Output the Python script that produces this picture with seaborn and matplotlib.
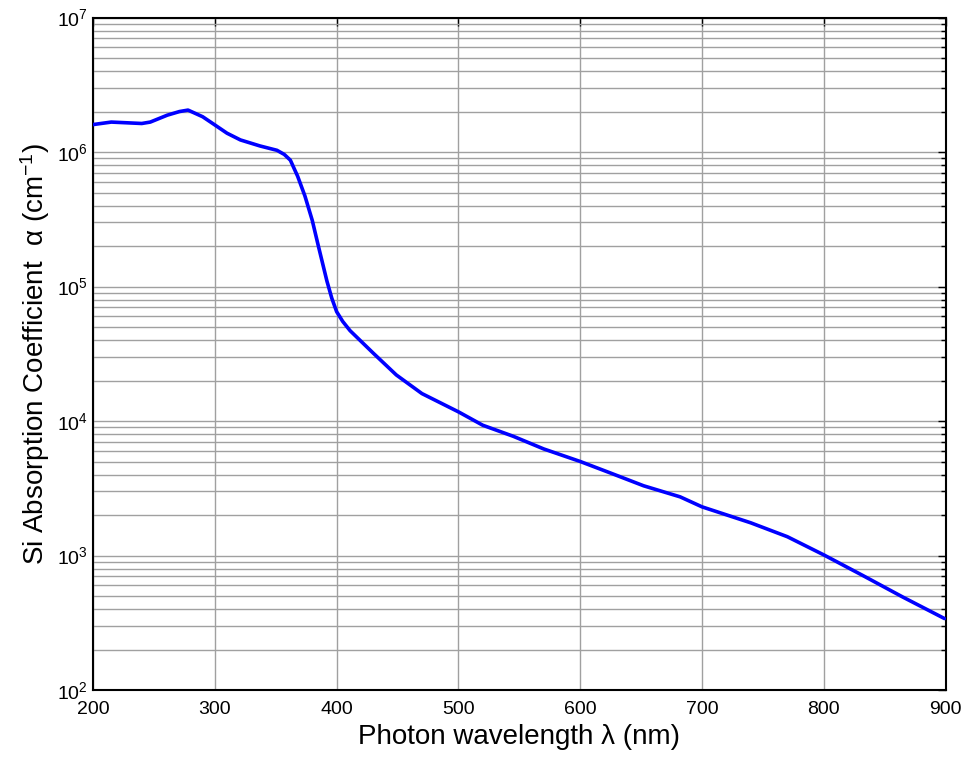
import numpy as np
import pandas as pd
import matplotlib
matplotlib.use('Agg')
import matplotlib.pyplot as plt
import matplotlib.ticker as mticker
import seaborn as sns

# Data
wavelength_nm = [200, 215, 240, 247, 261, 271, 278, 290, 300, 310, 321, 337, 351,
                 357, 362, 368, 374, 380, 385, 392, 396, 400, 405, 411, 430, 449,
                 470, 500, 520, 545, 570, 600, 625, 652, 682, 700, 740, 770, 800,
                 832, 865, 899]
alpha_cm = [1.60e6, 1.67e6, 1.63e6, 1.67e6, 1.88e6, 2.00e6, 2.05e6, 1.83e6, 1.59e6,
            1.38e6, 1.23e6, 1.11e6, 1.03e6, 9.6e5, 8.7e5, 6.6e5, 4.7e5, 3.1e5,
            2.0e5, 1.1e5, 8.2e4, 6.5e4, 5.5e4, 4.7e4, 3.2e4, 2.2e4, 1.6e4,
            1.17e4, 9.3e3, 7.7e3, 6.2e3, 5.0e3, 4.1e3, 3.3e3, 2.73e3, 2.3e3,
            1.75e3, 1.38e3, 1.01e3, 7.1e2, 4.9e2, 3.4e2]

x_ticks = [200, 300, 400, 500, 600, 700, 800, 900]

df = pd.DataFrame({'wavelength': wavelength_nm, 'alpha': alpha_cm})

sns.set_style("white")
plt.rcParams['font.family'] = ['Liberation Sans', 'DejaVu Sans']
plt.rcParams['mathtext.fontset'] = 'custom'
plt.rcParams['mathtext.rm'] = 'Liberation Sans'
plt.rcParams['mathtext.it'] = 'Liberation Sans:italic'
plt.rcParams['text.color'] = 'black'
plt.rcParams['axes.labelcolor'] = 'black'
plt.rcParams['xtick.color'] = 'black'
plt.rcParams['ytick.color'] = 'black'

fig = plt.figure(figsize=(9.63, 7.59), dpi=100)
ax = fig.add_axes([0.0966, 0.0909, 0.8854, 0.886])

sns.lineplot(data=df, x='wavelength', y='alpha', color='#0000ff',
             linewidth=2.6, ax=ax, zorder=3)

ax.set_yscale('log')
ax.set_xlim(200, 900)
ax.set_ylim(1e2, 1e7)
ax.set_xticks(x_ticks)
ax.yaxis.set_major_locator(mticker.LogLocator(base=10, numticks=10))
ax.yaxis.set_minor_locator(mticker.LogLocator(base=10, subs=np.arange(2, 10), numticks=20))
ax.yaxis.set_minor_formatter(mticker.NullFormatter())

# Grid
ax.grid(True, which='major', axis='both', color='#a0a0a0', linewidth=1.0)
ax.grid(True, which='minor', axis='y', color='#a0a0a0', linewidth=1.0)
ax.set_axisbelow(True)

# Ticks and spines
ax.tick_params(which='both', direction='in', top=True, right=True,
               labelsize=14, color='black', labelcolor='black')
ax.tick_params(which='major', length=6, width=1)
ax.tick_params(which='minor', length=3.5, width=1)
ax.tick_params(axis='x', pad=8)
for spine in ax.spines.values():
    spine.set_color('black')
    spine.set_linewidth(1.5)

ax.set_xlabel('Photon wavelength λ (nm)', fontsize=20, labelpad=4)
ax.set_ylabel('Si Absorption Coefficient  α (cm$^{-1}$)', fontsize=20, labelpad=4)

plt.savefig('out.png', dpi=100)
